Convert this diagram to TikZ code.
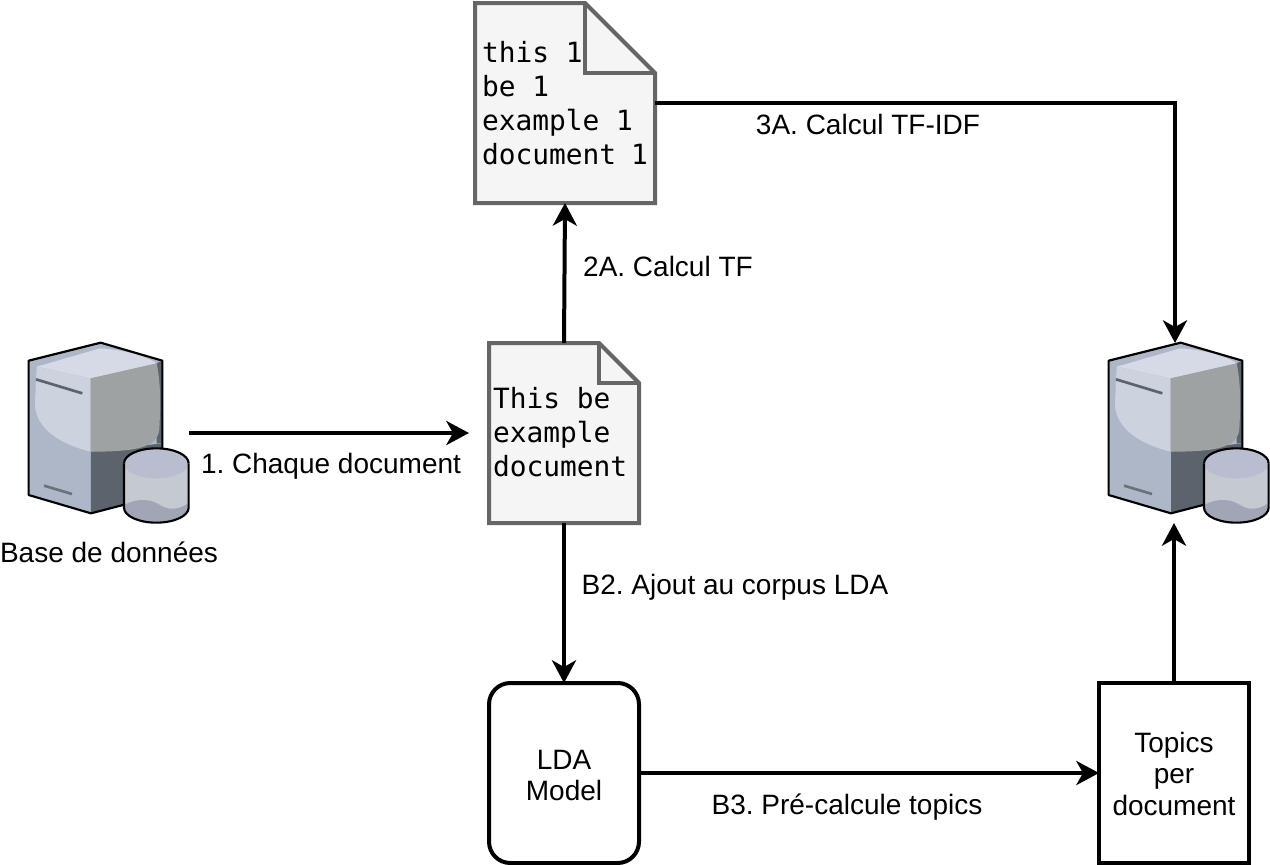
\documentclass[tikz,border=0pt]{standalone}
\usepackage{fontspec}
\setmainfont{Liberation Sans}
\newfontfamily\pagefont{DejaVu Sans Mono}
\usetikzlibrary{arrows.meta,backgrounds,calc}
\definecolor{pageline}{HTML}{666666}
\definecolor{pagefill}{HTML}{F5F5F5}
\definecolor{srvbase}{HTML}{AEB7C8}
\definecolor{srvdark}{HTML}{5B636C}
\definecolor{srvleft}{HTML}{CDD3DE}
\definecolor{srvtop}{HTML}{D5DAE6}
\definecolor{srvright}{HTML}{9EA2A3}
\definecolor{cylbody}{HTML}{C5C9D0}
\definecolor{cyltop}{HTML}{B9BDD0}
\definecolor{cylwave}{HTML}{A0A6B5}
\tikzset{
	boxlabel/.style={font=\frenchspacing\fontsize{21}{23.6}\selectfont, align=center},
	flow/.style={line width=3pt, -{Stealth[length=17pt,width=18pt,inset=5pt]}},
	srvnode/.style={minimum height=135pt, inner sep=0, outer sep=0},
	pagebox/.style={inner ysep=0, outer sep=0, align=flush left, font=\pagefont\fontsize{20.9}{25.5}\selectfont},
	modelbox/.style={draw, line width=3pt, minimum width=112.5pt, minimum height=135pt, inner sep=0, outer sep=0, boxlabel}
}
% server drawn with the coordinates of a 3x crop
\def\dbserver(#1,#2){
	\begin{scope}[shift={(#1,#2)},scale=1/3]
		\fill[srvbase] (86,92) -- (302,38) -- (487,92) -- (487,495) -- (273,550) -- (86,495) -- cycle;
		\fill[srvdark] (273,365) -- (487,340) -- (487,495) -- (273,550) -- cycle;
		\fill[srvdark] (470,100) -- (487,92) -- (487,340) -- (470,340) -- cycle;
		\fill[srvtop] (110,110) -- (300,55) .. controls (380,60) and (440,80) .. (470,100) -- (272,145) -- cycle;
		\fill[srvleft] (110,110) -- (272,145) -- (272,365) .. controls (190,345) and (105,300) .. (105,220) -- cycle;
		\fill[srvright] (272,145) -- (470,100) .. controls (485,170) and (480,250) .. (478,300) .. controls (470,350) and (420,365) .. (272,365) -- cycle;
		\draw[srvdark, line width=2pt] (108,148) -- (247,190);
		\draw[srvdark!90!white, line width=2pt] (132,467) -- (216,492);
		\draw[line width=1.6pt, line join=round] (487,420) -- (487,92) -- (302,38) -- (86,92) -- (86,495) -- (273,550) -- (400,517);
		\fill[cylbody] (372,400) -- (372,533) arc[start angle=180, end angle=0, x radius=97, y radius=45] -- (566,400) -- cycle;
		\fill[cylwave] (372,525) .. controls (410,505) and (450,505) .. (480,525) .. controls (505,542) and (540,540) .. (566,518) -- (566,533) arc[start angle=0, end angle=180, x radius=97, y radius=45] -- cycle;
		\fill[cyltop] (469,400) ellipse [x radius=97, y radius=45];
		\draw[line width=1.6pt] (372,400) -- (372,533) arc[start angle=180, end angle=0, x radius=97, y radius=45] -- (566,400);
		\draw[line width=1.6pt] (372,400) arc[start angle=180, end angle=360, x radius=97, y radius=45];
	\end{scope}
}
% outline of a page behind its node
\def\foldpage(#1)(#2){
	\begin{scope}[on background layer]
		\draw[pageline, fill=pagefill, line width=3pt, miter limit=10] (#1.north west) -- ($(#1.north east)+(-#2,0)$) -- ($(#1.north east)+(0,#2)$) -- (#1.south east) -- (#1.south west) -- cycle;
		\draw[pageline, line width=3pt] ($(#1.north east)+(-#2,0)$) -- ($(#1.north east)+(-#2,#2)$) -- ($(#1.north east)+(0,#2)$);
	\end{scope}
}
\begin{document}
\begin{tikzpicture}[x=0.75pt, y=-0.75pt]
	\useasboundingbox (0,0) rectangle (1270,864);
	
	\dbserver(0,330)
	\dbserver(1080,330)
	\node[srvnode, minimum width=120.75pt] (srcdb) at (108.5,433) {};
	\node[srvnode, minimum width=100.5pt] (dstdb) at (1175,433) {};
	
	\node[pagebox, inner xsep=5.25pt, text width=124.5pt, minimum width=135pt, minimum height=150pt] (tfpage) at (565,103) {this 1\\be 1\\example 1\\document 1};
	\node[pagebox, inner xsep=3pt, text width=106.5pt, minimum width=112.5pt, minimum height=135pt] (inpage) at (564,433) {This be\\example\\document\rule[-1.5pt]{0pt}{0pt}};
	\foldpage(tfpage)(70)
	\foldpage(inpage)(40)
	
	\node[modelbox, rounded corners=16pt] (lda) at (564,773) {\rule{0pt}{18pt}LDA\\Model};
	\node[modelbox] (topics) at (1174,773) {\rule{0pt}{16.5pt}Topics\\per\\document};
	
	\draw[flow, shorten >=15pt] (srcdb) -- (inpage);
	\draw[flow] (inpage.north) -- (tfpage.south);
	\draw[flow] (tfpage.east) -| (dstdb.north);
	\draw[flow] (inpage.south) -- (lda.north);
	\draw[flow] (lda) -- (topics);
	\draw[flow] (topics.north) -- (topics.north |- dstdb.south);
	
	\node[boxlabel] (dblabel) at (109,552) {Base de données};
	\node[boxlabel] (steponelabel) at (331,466) {1. Chaque document};
	\node[boxlabel] (tflabel) at (668,266) {2A. Calcul TF};
	\node[boxlabel] (tfidflabel) at (868,124) {3A. Calcul TF-IDF};
	\node[boxlabel] (corpuslabel) at (735,587) {B2. Ajout au corpus LDA};
	\node[boxlabel] (precalclabel) at (847,807) {B3. Pré-calcule topics};
\end{tikzpicture}
\end{document}
